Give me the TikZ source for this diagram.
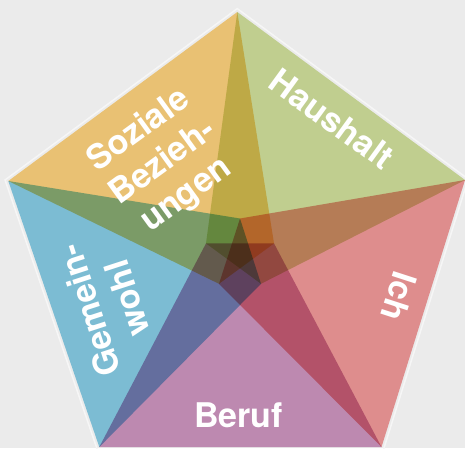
\documentclass[tikz,border=0pt]{standalone}
\usepackage{fontspec}
\setmainfont{TeX Gyre Heros}
\usetikzlibrary{calc}

\definecolor{bg}{HTML}{EBEBEB}
\definecolor{cSoz}{HTML}{FDD27D}
\definecolor{cHau}{HTML}{D1E09C}
\definecolor{cIch}{HTML}{F19A9A}
\definecolor{cBer}{HTML}{CE95BF}
\definecolor{cGem}{HTML}{87CDE5}

\begin{document}
\begin{tikzpicture}[x=1pt,y=-1pt,
  wedge/.style={fill=#1, draw=none},
  rim/.style={draw=white!55!bg, line width=1.5pt, line join=miter},
  areatext/.style={text=white, font=\bfseries\fontsize{34}{40}\selectfont,
    align=center, inner sep=0pt}]

% canvas
\fill[bg] (0,0) rectangle (465,448);
\useasboundingbox (0,0) rectangle (465,448);

% outer pentagon
\coordinate (T)  at (237.3,12);
\coordinate (R)  at (465,180);
\coordinate (BR) at (381.5,447);
\coordinate (BL) at (99.3,447);
\coordinate (L)  at (8.3,181);
\coordinate (C)  at (240,254);

% small inner pentagon where the wedges end
\coordinate (t)  at (240,218.5);
\coordinate (r)  at (274,243.4);
\coordinate (br) at (261,283.8);
\coordinate (bl) at (219,283.8);
\coordinate (l)  at (206,243.4);

% light rim just outside the pentagon
\draw[rim] ($(C)!1.014!(T)$) -- ($(C)!1.014!(R)$) -- ($(C)!1.014!(BR)$)
  -- ($(C)!1.014!(BL)$) -- ($(C)!1.014!(L)$) -- cycle;

% overlapping wedges, one per side
\begin{scope}[blend mode=multiply]
  \fill[wedge=cSoz] (T)  -- (L)  -- (bl) -- (r)  -- cycle;
  \fill[wedge=cHau] (T)  -- (R)  -- (br) -- (l)  -- cycle;
  \fill[wedge=cIch] (R)  -- (BR) -- (bl) -- (t)  -- cycle;
  \fill[wedge=cBer] (BR) -- (BL) -- (l)  -- (r)  -- cycle;
  \fill[wedge=cGem] (BL) -- (L)  -- (t)  -- (br) -- cycle;
\end{scope}

% labels
\node[areatext, rotate=36]   (soz) at (163,163) {Soziale\\Bezieh-\\ungen};
\node[areatext, rotate=-36]  (hau) at (332,119) {Haushalt};
\node[areatext, rotate=-108] (ich) at (399,297) {Ich};
\node[areatext]              (ber) at (238.5,415.5) {Beruf};
\node[areatext, rotate=108]  (gem) at (108,304.5) {Gemein-\\wohl};
\end{tikzpicture}
\end{document}
